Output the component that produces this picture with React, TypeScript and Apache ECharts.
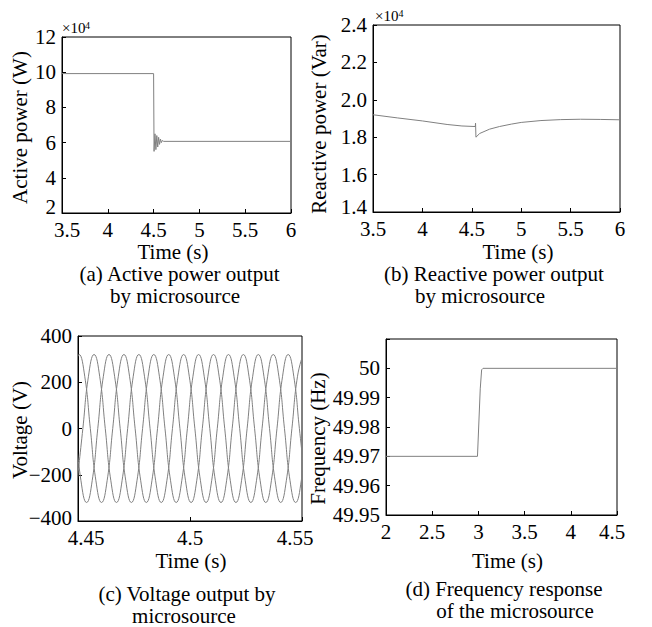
import React, { useEffect, useRef } from "react";
import * as echarts from "echarts";

const FONT = "'Liberation Serif', 'Times New Roman', Times, serif";
const LINE_COLOR = "#808080";

// (a) Active power (x10^4 W)
const activeT = [3.5, 4.5, 4.505, 4.515, 4.525, 4.535, 4.545, 4.555, 4.565, 4.575, 4.585, 4.595, 4.61, 6];
const activeP = [9.92, 9.92, 5.5, 6.5, 5.6, 6.4, 5.75, 6.3, 5.9, 6.2, 6.0, 6.12, 6.07, 6.07];

// (b) Reactive power (x10^4 Var)
const reactiveT = [3.5, 3.75, 4.0, 4.25, 4.4, 4.535, 4.538, 4.542, 4.58, 4.68, 4.78, 4.9, 5.0, 5.2, 5.4, 5.6, 5.8, 6.0];
const reactiveQ = [1.92, 1.903, 1.887, 1.868, 1.86, 1.857, 1.875, 1.8, 1.82, 1.843, 1.857, 1.87, 1.879, 1.889, 1.894, 1.896, 1.895, 1.893];

// (c) Three-phase voltage samples (V), one sample every voltStep seconds
const voltStep = 0.0025;
const phaseAStart = 4.448;
const phaseA = [226, 320, 226, 0, -226, -320, -226, 0, 226, 320, 226, 0, -226, -320, -226, 0, 226, 320, 226, 0, -226, -320, -226, 0, 226, 320, 226, 0, -226, -320, -226, 0, 226, 320, 226, 0, -226, -320, -226, 0, 226, 320];
const phaseBStart = 4.44967;
const phaseB = [-226, 0, 226, 320, 226, 0, -226, -320, -226, 0, 226, 320, 226, 0, -226, -320, -226, 0, 226, 320, 226, 0, -226, -320, -226, 0, 226, 320, 226, 0, -226, -320, -226, 0, 226, 320, 226, 0, -226, -320, -226, 0];
const phaseCStart = 4.44883;
const phaseC = [0, -226, -320, -226, 0, 226, 320, 226, 0, -226, -320, -226, 0, 226, 320, 226, 0, -226, -320, -226, 0, 226, 320, 226, 0, -226, -320, -226, 0, 226, 320, 226, 0, -226, -320, -226, 0, 226, 320, 226, 0, -226];

// (d) Frequency (Hz)
const freqT = [2, 2.99, 3.02, 3.035, 3.05, 4.5];
const freqF = [49.97, 49.97, 49.993, 49.9995, 50.0, 50.0];

const pairs = (xs: number[], ys: number[]) => xs.map((x, i) => [x, ys[i]]);
const sampled = (start: number, vals: number[]) => vals.map((v, i) => [start + i * voltStep, v]);

const tickStyle = { inside: true, length: 4, lineStyle: { color: "#000", width: 1 } };
const labelBase = { color: "#000", fontFamily: FONT, fontSize: 21 };
const near = (a: number, b: number) => Math.abs(a - b) < 1e-7;

const rs = (padding: number[]) => ({ fontFamily: FONT, fontSize: 21, color: "#000", padding });
const richShift = {
  l: rs([0, 0, 0, 10]),
  l2: rs([0, 0, 0, 16]),
  r: rs([0, 10, 0, 0]),
  r2: rs([0, 14, 0, 0]),
  up: rs([0, 0, 6, 0]),
  up11: rs([0, 0, 11, 0]),
  up12: rs([0, 0, 12, 0]),
};

function xAxis(gridIndex: number, min: number, max: number, interval: number, formatter?: (v: number) => string) {
  return {
    type: "value",
    gridIndex,
    min,
    max,
    interval,
    axisLine: { show: true, onZero: false, lineStyle: { color: "#000", width: 1 } },
    axisTick: tickStyle,
    splitLine: { show: false },
    axisLabel: { ...labelBase, margin: 6, formatter, rich: richShift },
  };
}

function yAxis(gridIndex: number, min: number, max: number, interval: number, formatter?: (v: number) => string) {
  return {
    type: "value",
    gridIndex,
    min,
    max,
    interval,
    axisLine: { show: true, onZero: false, lineStyle: { color: "#000", width: 1 } },
    axisTick: tickStyle,
    splitLine: { show: false },
    axisLabel: { ...labelBase, margin: 6, formatter, rich: richShift },
  };
}

function text(x: number, y: number, t: string, size = 21, align = "center", rotation = 0) {
  return {
    type: "text",
    x,
    y,
    rotation,
    style: {
      text: t,
      fill: "#000",
      fontSize: size,
      fontFamily: FONT,
      align,
      verticalAlign: "middle",
      textAlign: align,
      textVerticalAlign: "middle",
    },
  };
}

function lineSeries(idx: number, data: number[][], smooth = false) {
  return {
    type: "line",
    xAxisIndex: idx,
    yAxisIndex: idx,
    data,
    smooth,
    showSymbol: false,
    symbol: "none",
    lineStyle: { color: LINE_COLOR, width: 1 },
    clip: true,
  };
}

export default function App() {
  const ref = useRef<HTMLDivElement>(null);
  useEffect(() => {
    if (!ref.current) return;
    const chart = echarts.init(ref.current, undefined, { renderer: "svg" });
    const gridBase = { show: true, borderColor: "#000", borderWidth: 1, backgroundColor: "transparent", containLabel: false };
    const option = {
      animation: false,
      backgroundColor: "#fff",
      grid: [
        { ...gridBase, left: 62, top: 37, width: 229, height: 176 },
        { ...gridBase, left: 373, top: 25, width: 247, height: 187 },
        { ...gridBase, left: 78, top: 336, width: 224, height: 185 },
        { ...gridBase, left: 386, top: 339, width: 231, height: 176 },
      ],
      xAxis: [
        xAxis(0, 3.5, 6, 0.5, (v: number) => (near(v, 3.5) ? "{l|3.5}" : String(v))),
        xAxis(1, 3.5, 6, 0.5),
        xAxis(2, 4.45, 4.55, 0.05, (v: number) =>
          near(v, 4.45) ? "{l2|4.45}" : near(v, 4.55) ? "{r2|4.55}" : String(Math.round(v * 100) / 100)
        ),
        xAxis(3, 2, 4.5, 0.5, (v: number) => (near(v, 4.5) ? "{r|4.5}" : String(v))),
      ],
      yAxis: [
        yAxis(0, 2, 12, 2, (v: number) => (near(v, 2) ? "{up12|2}" : String(v))),
        yAxis(1, 1.4, 2.4, 0.2, (v: number) => (near(v, 1.4) ? "{up11|1.4}" : v.toFixed(1))),
        yAxis(2, -400, 400, 200, (v: number) =>
          near(v, -400) ? "{up|\u2212400}" : String(v).replace("-", "\u2212")
        ),
        yAxis(3, 49.95, 50.01, 0.01, (v: number) => (v > 50.005 ? "" : near(v, 50) ? "50" : v.toFixed(2))),
      ],
      series: [
        lineSeries(0, pairs(activeT, activeP)),
        lineSeries(1, pairs(reactiveT, reactiveQ)),
        lineSeries(2, sampled(phaseAStart, phaseA), true),
        lineSeries(2, sampled(phaseBStart, phaseB), true),
        lineSeries(2, sampled(phaseCStart, phaseC), true),
        lineSeries(3, pairs(freqT, freqF)),
      ],
      graphic: [
        // multipliers
        text(62, 28, "\u00d710", 15, "left"),
        text(85, 25.5, "4", 10, "left"),
        text(375, 15.5, "\u00d710", 15, "left"),
        text(398.5, 13.5, "4", 10, "left"),
        // y-axis names
        text(20, 127.5, "Active power (W)", 21, "center", Math.PI / 2),
        text(318.5, 124, "Reactive power (Var)", 21, "center", Math.PI / 2),
        text(20, 430, "Voltage (V)", 21, "center", Math.PI / 2),
        text(317.5, 438.5, "Frequency (Hz)", 21, "center", Math.PI / 2),
        // x-axis names
        text(173, 252, "Time (s)"),
        text(518, 252, "Time (s)"),
        text(191, 561, "Time (s)"),
        text(507.5, 561, "Time (s)"),
        // captions
        text(179.5, 274, "(a) Active power output"),
        text(175, 296, "by microsource"),
        text(494, 274, "(b) Reactive power output"),
        text(480, 296, "by microsource"),
        text(187, 593.5, "(c) Voltage output by"),
        text(184, 615.5, "microsource"),
        text(504, 588.5, "(d) Frequency response"),
        text(515, 610.5, "of the microsource"),
      ],
    };
    chart.setOption(option as any);
    return () => chart.dispose();
  }, []);
  return (
    <div
      ref={ref}
      style={{ position: "absolute", left: 0, top: 0, width: 652, height: 627, background: "#fff" }}
    />
  );
}
